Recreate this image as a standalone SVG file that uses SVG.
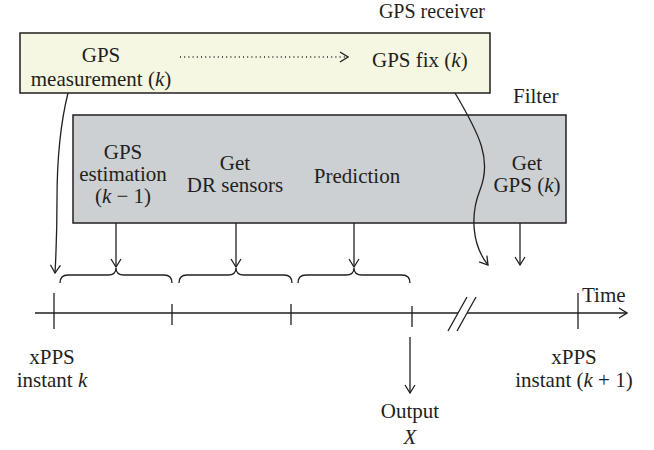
<svg xmlns="http://www.w3.org/2000/svg" width="654" height="450" viewBox="0 0 654 450">
<defs>
<style>
text{font-family:"Liberation Serif","Times New Roman",serif;font-size:21px;fill:#231f20}
.c{text-anchor:middle}
.i{font-style:italic}
.ln{fill:none;stroke:#231f20;stroke-width:1.3}
.box{stroke:#231f20;stroke-width:1.5}
</style>
<marker id="arr" viewBox="0 0 10 12" refX="9" refY="6" markerWidth="10" markerHeight="12" orient="auto" markerUnits="userSpaceOnUse">
<path d="M1,1 L9,6 L1,11" fill="none" stroke="#231f20" stroke-width="1.3"/>
</marker>
</defs>
<rect width="654" height="450" fill="#ffffff"/>

<g id="gps-receiver">
<text x="485" y="18" style="text-anchor:end;font-size:20px">GPS receiver</text>
<rect class="box" x="20" y="33" width="470" height="60" fill="#f5f7e2"/>
<text class="c" x="101" y="62">GPS</text>
<text class="c" x="101" y="86">measurement (<tspan class="i">k</tspan>)</text>
<text x="372" y="67">GPS fix (<tspan class="i">k</tspan>)</text>
</g>

<g id="filter">
<text x="513" y="103">Filter</text>
<rect class="box" x="73" y="115" width="493" height="108" fill="#ccd0d3"/>
<text class="c" x="123" y="159">GPS</text>
<text class="c" x="123" y="181">estimation</text>
<text class="c" x="123" y="203">(<tspan class="i">k</tspan> − 1)</text>
<text class="c" x="235" y="170">Get</text>
<text class="c" x="235" y="192">DR sensors</text>
<text class="c" x="357" y="183">Prediction</text>
<text class="c" x="527" y="170">Get</text>
<text class="c" x="527" y="192">GPS (<tspan class="i">k</tspan>)</text>
</g>

<g id="timeline">
<path class="ln" d="M35,313 H458 M467,313 H627" marker-end="url(#arr)"/>
<path class="ln" d="M448,331 L467,297 M457,331 L476,297"/>
<path class="ln" d="M54,293 V329 M172,304 V325 M291,304 V325 M412,306 V327 M578,293 V329"/>
<text x="582" y="302">Time</text>
<text class="c" x="52" y="364">xPPS</text>
<text class="c" x="52" y="387">instant <tspan class="i">k</tspan></text>
<text class="c" x="574" y="364">xPPS</text>
<text class="c" x="574" y="387">instant (<tspan class="i">k</tspan> + 1)</text>
<text class="c" x="410" y="418">Output</text>
<text class="c i" x="410" y="444">X</text>
</g>

<g id="braces">
<path class="ln" d="M60,283 Q60,275 68,275 H108 Q116,275 116,268 Q116,275 124,275 H164 Q172,275 172,283"/>
<path class="ln" d="M179,283 Q179,275 187,275 H228 Q236,275 236,268 Q236,275 244,275 H284 Q292,275 292,283"/>
<path class="ln" d="M298,283 Q298,275 306,275 H346 Q354,275 354,268 Q354,275 362,275 H402 Q410,275 410,283"/>
</g>

<g id="connectors">
<path class="ln" d="M180,57 H348" stroke-dasharray="1 3.2" marker-end="url(#arr)"/>
<path class="ln" d="M68,93 C60,125 57,160 57,200 C57,235 56,255 55,273" marker-end="url(#arr)"/>
<path class="ln" d="M455,93 C480,135 492,160 480,190 C470,215 472,245 488,265" marker-end="url(#arr)"/>
<path class="ln" d="M116,223 V267" marker-end="url(#arr)"/>
<path class="ln" d="M236,223 V267" marker-end="url(#arr)"/>
<path class="ln" d="M354,223 V267" marker-end="url(#arr)"/>
<path class="ln" d="M520,223 V265" marker-end="url(#arr)"/>
<path class="ln" d="M410,337 V393" marker-end="url(#arr)"/>
</g>
</svg>
